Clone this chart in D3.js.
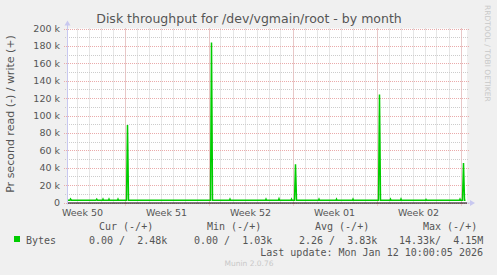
<!DOCTYPE html>
<html>
<head>
<meta charset="utf-8">
<script src="https://cdn.jsdelivr.net/npm/d3@7"></script>
<style>
  body { margin: 0; background: #f0f0f0; }
  svg { display: block; }
  text { font-family: "DejaVu Sans", sans-serif; fill: #555; }
  .mono { font-family: "DejaVu Sans Mono", monospace; white-space: pre; font-size: 10px; }
</style>
</head>
<body>
<svg width="497" height="275"></svg>
<script>
// write (+) series, 2h-ish samples (bytes per second)
const writeTimes = [
  "2025-12-10T05:00", "2025-12-10T11:00", "2025-12-10T12:00", "2025-12-10T14:00",
  "2025-12-12T15:00", "2025-12-12T16:30", "2025-12-12T18:00",
  "2025-12-13T04:00", "2025-12-13T05:00", "2025-12-13T06:00",
  "2025-12-13T16:00", "2025-12-13T17:00", "2025-12-13T18:00",
  "2025-12-14T10:00", "2025-12-14T11:00", "2025-12-14T12:00",
  "2025-12-15T04:00", "2025-12-15T06:00", "2025-12-15T08:00",
  "2025-12-22T04:00", "2025-12-22T06:00", "2025-12-22T08:00",
  "2025-12-23T18:00", "2025-12-23T19:00", "2025-12-23T20:00",
  "2025-12-26T18:00", "2025-12-26T19:00", "2025-12-26T20:00",
  "2025-12-27T20:00", "2025-12-27T21:00", "2025-12-27T22:00",
  "2025-12-28T21:00", "2025-12-28T22:00", "2025-12-28T23:00",
  "2025-12-29T04:00", "2025-12-29T06:00", "2025-12-29T08:00",
  "2025-12-31T04:00", "2025-12-31T05:00", "2025-12-31T06:00",
  "2026-01-01T15:00", "2026-01-01T16:00", "2026-01-01T17:00",
  "2026-01-03T00:00", "2026-01-03T01:00", "2026-01-03T02:00",
  "2026-01-05T04:00", "2026-01-05T06:00", "2026-01-05T08:00",
  "2026-01-06T03:00", "2026-01-06T04:00", "2026-01-06T05:00",
  "2026-01-07T00:00", "2026-01-07T01:00", "2026-01-07T02:00",
  "2026-01-09T02:00", "2026-01-09T03:00", "2026-01-09T04:00",
  "2026-01-11T22:00", "2026-01-11T23:00", "2026-01-12T00:00",
  "2026-01-12T04:00", "2026-01-12T06:00", "2026-01-12T08:00",
  "2026-01-12T10:00"
];
const writeValues = [
  2500, 2500, 4000, 2500,
  2500, 3800, 2500,
  2500, 3800, 2500,
  2500, 3800, 2500,
  2500, 3800, 2500,
  2500, 89000, 2500,
  2500, 184000, 2500,
  2500, 3800, 2500,
  2500, 3800, 2500,
  2500, 4200, 2500,
  2500, 3800, 2500,
  2500, 44000, 2500,
  2500, 3800, 2500,
  2500, 3800, 2500,
  2500, 3800, 2500,
  2500, 124000, 2500,
  2500, 3800, 2500,
  2500, 4000, 2500,
  2500, 3500, 2500,
  2500, 3800, 2500,
  2500, 45500, 2500,
  2500
];

const yTicks = [0, 20000, 40000, 60000, 80000, 100000, 120000, 140000, 160000, 180000, 200000];
const yTickLabels = ["0", "20 k", "40 k", "60 k", "80 k", "100 k", "120 k", "140 k", "160 k", "180 k", "200 k"];
const weekStarts = ["2025-12-08", "2025-12-15", "2025-12-22", "2025-12-29", "2026-01-05", "2026-01-12"];
const weekLabels = ["Week 50", "Week 51", "Week 52", "Week 01", "Week 02"];

const legendHeaders = ["Cur (-/+)", "Min (-/+)", "Avg (-/+)", "Max (-/+)"];
const legendValues = ["0.00 /  2.48k", "0.00 /  1.03k", "2.26 /  3.83k", "14.33k/  4.15M"];

const parse = s => new Date(s + (s.length > 10 ? ":00Z" : "T00:00:00Z"));

const svg = d3.select("svg");
const plotLeft = 67, plotRight = 467, plotTop = 28.5, plotBottom = 202.5;
const green = "#00cc00";

const x = d3.scaleUtc()
  .domain([parse("2025-12-10T05:00"), parse("2026-01-12T13:00")])
  .range([plotLeft, plotRight]);
const y = d3.scaleLinear().domain([0, 200000]).range([plotBottom, plotTop]);

// plot background
svg.append("rect")
  .attr("x", plotLeft).attr("y", plotTop)
  .attr("width", plotRight - plotLeft).attr("height", plotBottom - plotTop)
  .attr("fill", "#fff");

const grid = svg.append("g").attr("stroke-dasharray", "1,1").attr("stroke-width", 1);

// minor grid: every 10k and every day
d3.range(10000, 200001, 20000).forEach(v => {
  grid.append("line")
    .attr("x1", plotLeft - 2).attr("x2", plotRight + 2)
    .attr("y1", Math.round(y(v)) + 0.5).attr("y2", Math.round(y(v)) + 0.5)
    .attr("stroke", "#cccccc");
});
d3.utcDay.range(x.domain()[0], x.domain()[1]).forEach(d => {
  grid.append("line")
    .attr("x1", Math.round(x(d)) + 0.5).attr("x2", Math.round(x(d)) + 0.5)
    .attr("y1", plotTop).attr("y2", plotBottom + 2)
    .attr("stroke", "#cccccc");
});
// major grid
yTicks.forEach(v => {
  grid.append("line")
    .attr("x1", plotLeft - 3).attr("x2", plotRight + 2)
    .attr("y1", Math.round(y(v)) + 0.5).attr("y2", Math.round(y(v)) + 0.5)
    .attr("stroke", "#eaabab");
});
weekStarts.map(parse).filter(d => x(d) > plotLeft && x(d) < plotRight).forEach(d => {
  grid.append("line")
    .attr("x1", Math.round(x(d)) + 0.5).attr("x2", Math.round(x(d)) + 0.5)
    .attr("y1", plotTop).attr("y2", plotBottom + 3)
    .attr("stroke", "#eaabab");
});

// y tick labels
svg.append("g").selectAll("text")
  .data(yTicks)
  .enter()
  .append("text")
  .attr("x", 60)
  .attr("y", d => y(d) + 3.5)
  .attr("text-anchor", "end")
  .attr("font-size", "9.5px")
  .text((d, i) => yTickLabels[i]);

// week labels, centred in each week
svg.append("g").selectAll("text")
  .data(weekLabels)
  .enter()
  .append("text")
  .attr("x", (d, i) => (x(parse(weekStarts[i])) + x(parse(weekStarts[i + 1]))) / 2)
  .attr("y", 216)
  .attr("text-anchor", "middle")
  .attr("font-size", "9.5px")
  .text(d => d);

// write series
const data = writeTimes.map((t, i) => ({ date: parse(t), value: writeValues[i] }));
svg.append("path")
  .datum(data)
  .attr("fill", "none")
  .attr("stroke", green)
  .attr("stroke-width", 1.5)
  .attr("d", d3.line().x(d => x(d.date)).y(d => y(d.value)));

// zero line
svg.append("line")
  .attr("x1", plotLeft).attr("x2", plotRight)
  .attr("y1", plotBottom + 0.5).attr("y2", plotBottom + 0.5)
  .attr("stroke", "#000");

// axes with arrows
const axisColor = "#c8c8f0";
svg.append("line")
  .attr("x1", plotLeft + 0.5).attr("x2", plotLeft + 0.5)
  .attr("y1", plotBottom + 2).attr("y2", plotTop - 4)
  .attr("stroke", axisColor);
svg.append("path")
  .attr("d", `M${plotLeft - 2.5},${plotTop - 3} L${plotLeft + 3.5},${plotTop - 3} L${plotLeft + 0.5},${plotTop - 8} Z`)
  .attr("fill", axisColor);
svg.append("line")
  .attr("x1", plotRight).attr("x2", plotRight + 4)
  .attr("y1", plotBottom + 0.5).attr("y2", plotBottom + 0.5)
  .attr("stroke", axisColor);
svg.append("path")
  .attr("d", `M${plotRight + 3},${plotBottom - 2.5} L${plotRight + 3},${plotBottom + 3.5} L${plotRight + 8},${plotBottom + 0.5} Z`)
  .attr("fill", axisColor);

// title
svg.append("text")
  .attr("x", 249).attr("y", 23)
  .attr("text-anchor", "middle")
  .attr("font-size", "12.5px")
  .style("fill", "#555")
  .text("Disk throughput for /dev/vgmain/root - by month");

// vertical axis title
svg.append("text")
  .attr("transform", "translate(14,114) rotate(-90)")
  .attr("text-anchor", "middle")
  .attr("font-size", "11px")
  .text("Pr second read (-) / write (+)");

// rrdtool watermark
svg.append("text")
  .attr("transform", "translate(485,5) rotate(90)")
  .attr("font-size", "7.5px")
  .style("fill", "#c8c8c8")
  .text("RRDTOOL / TOBI OETIKER");

// legend
const headX = [99, 207, 315, 423];
const valX = [89, 194, 299, 399];
svg.append("g").selectAll("text")
  .data(legendHeaders)
  .enter()
  .append("text")
  .attr("class", "mono")
  .attr("x", (d, i) => headX[i])
  .attr("y", 230)
  .text(d => d);

svg.append("rect")
  .attr("x", 14).attr("y", 236)
  .attr("width", 6).attr("height", 6)
  .attr("fill", green);
svg.append("text")
  .attr("class", "mono")
  .attr("x", 26).attr("y", 243.5)
  .text("Bytes");
svg.append("g").selectAll("text")
  .data(legendValues)
  .enter()
  .append("text")
  .attr("class", "mono")
  .attr("x", (d, i) => valX[i])
  .attr("y", 243.5)
  .text(d => d);

svg.append("text")
  .attr("class", "mono")
  .attr("x", 483).attr("y", 255.5)
  .attr("text-anchor", "end")
  .text("Last update: Mon Jan 12 10:00:05 2026");

svg.append("text")
  .attr("x", 249).attr("y", 266)
  .attr("text-anchor", "middle")
  .attr("font-size", "7.5px")
  .style("fill", "#c8c8c8")
  .text("Munin 2.0.76");
</script>
</body>
</html>
